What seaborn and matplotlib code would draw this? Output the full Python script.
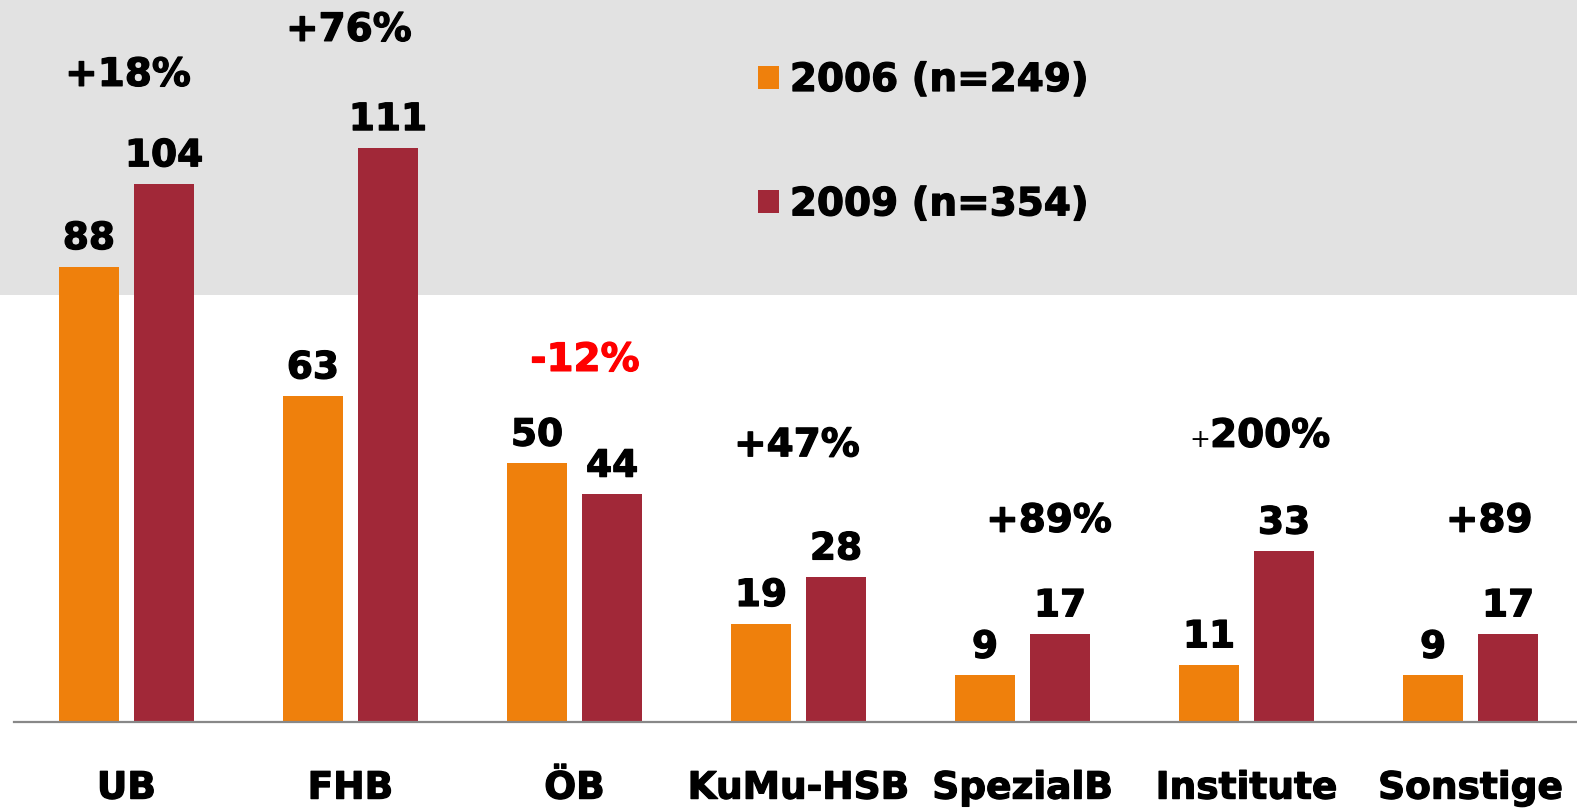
import matplotlib
matplotlib.use("Agg")
import matplotlib.pyplot as plt
import matplotlib.patheffects as pe
import seaborn as sns
import pandas as pd
from matplotlib.patches import Rectangle

categories = ["UB", "FHB", "ÖB", "KuMu-HSB", "SpezialB", "Institute", "Sonstige"]
series_names = ["2006 (n=249)", "2009 (n=354)"]
v2006 = [88, 63, 50, 19, 9, 11, 9]
v2009 = [104, 111, 44, 28, 17, 33, 17]
changes = ["+18%", "+76%", "-12%", "+47%", "+89%", "+200%", "+89"]

# label layout (positions in data units)
change_x = [0.007, 0.993, 2.047, 2.993, 4.118, 4.837, 6.083]
change_y = [125.1, 133.8, 70.0, 53.5, 38.9, 53.2, 38.9]

ORANGE = "#EF800C"
RED = "#A12838"
BAND = "#E2E2E2"

sns.set_theme(style="white")
plt.rcParams["font.family"] = ["DejaVu Sans"]

heavy = [pe.withStroke(linewidth=0.9, foreground="black")]

df = pd.DataFrame({
    "cat": categories * 2,
    "val": v2006 + v2009,
    "series": [series_names[0]] * len(categories) + [series_names[1]] * len(categories),
})

W, H = 1577, 808
fig = plt.figure(figsize=(W / 100, H / 100), dpi=100)
fig.patch.set_facecolor("white")
# grey band at top
band = Rectangle((0, 1 - 295 / H), 1, 295 / H, transform=fig.transFigure,
                 facecolor=BAND, edgecolor="none", zorder=-10)
fig.patches.append(band)

ax = fig.add_axes([14 / W, 1 - 722 / H, 1 - 14 / W, 722 / H])
ax.set_zorder(1)
ax.patch.set_alpha(0)

sns.barplot(data=df, x="cat", y="val", hue="series", palette=[ORANGE, RED],
            width=0.67, gap=0.2, saturation=1, linewidth=0, ax=ax, legend=True)

ax.set_xlim(-0.502, 6.475)
ax.set_ylim(0, 722 / 5.173)
ax.set_xlabel("")
ax.set_ylabel("")
ax.set_yticks([])
for s in ["top", "right", "left"]:
    ax.spines[s].set_visible(False)
ax.spines["bottom"].set_color("#888888")
ax.spines["bottom"].set_linewidth(1.6)
ax.tick_params(axis="x", length=0, pad=35)
for lab in ax.get_xticklabels():
    lab.set_fontsize(27)
    lab.set_fontweight("bold")
    lab.set_color("black")
    lab.set_path_effects(heavy)

for cont in ax.containers:
    labs = ax.bar_label(cont, fmt="%d", padding=7, fontsize=27, fontweight="bold", color="black")
    for t in labs:
        t.set_path_effects(heavy)

for i, txt in enumerate(changes):
    color = "#FF0000" if txt.startswith("-") else "black"
    stroke = [pe.withStroke(linewidth=0.9, foreground=color)]
    if txt == "+200%":
        ax.text(change_x[i], change_y[i], txt[1:], ha="left", va="baseline",
                fontsize=28, fontweight="bold", color=color, path_effects=stroke)
        ax.text(change_x[i], change_y[i], "+", ha="right", va="baseline",
                fontsize=18, fontweight="normal", color=color)
    else:
        ax.text(change_x[i], change_y[i], txt, ha="center", va="center",
                fontsize=28, fontweight="bold", color=color, path_effects=stroke)

handles, labels = ax.get_legend_handles_labels()
leg = ax.legend(handles, labels, loc="upper left", bbox_to_anchor=(758 / W, 1 - 61 / H),
                bbox_transform=fig.transFigure, frameon=False,
                prop={"size": 28, "weight": "bold"}, handlelength=0.54, handleheight=0.54,
                handletextpad=0.28, labelspacing=2.22, borderpad=0, borderaxespad=0,
                labelcolor="black")
for t in leg.get_texts():
    t.set_path_effects(heavy)

fig.savefig("out.png", dpi=100, facecolor="white")
